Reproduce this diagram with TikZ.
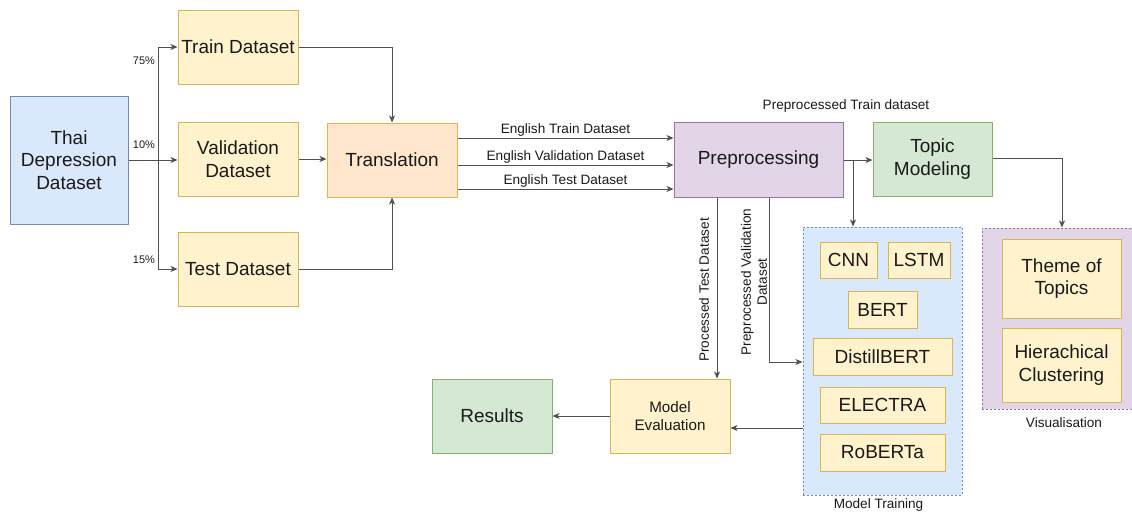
\documentclass[tikz,border=0pt]{standalone}
\usepackage{fontspec}
\setmainfont{Liberation Sans}
\usetikzlibrary{arrows.meta}

\definecolor{bluefill}{HTML}{DAE8FC}
\definecolor{blueline}{HTML}{6C8EBF}
\definecolor{yelfill}{HTML}{FFF2CC}
\definecolor{yelline}{HTML}{D6B656}
\definecolor{orfill}{HTML}{FFE6CC}
\definecolor{orline}{HTML}{E6B548}
\definecolor{purfill}{HTML}{E1D5E7}
\definecolor{purline}{HTML}{9673A6}
\definecolor{grnfill}{HTML}{D5E8D4}
\definecolor{grnline}{HTML}{82B366}
\definecolor{ink}{HTML}{1A1A1A}
\definecolor{wire}{HTML}{505050}

\newcommand{\bigtxt}{\fontsize{19}{22.5}\selectfont}
\newcommand{\midtxt}{\fontsize{15.2}{18}\selectfont}
\newcommand{\smalltxt}{\fontsize{13.6}{16}\selectfont}
\newcommand{\tinytxt}{\fontsize{11}{13}\selectfont}

\tikzset{
  box/.style={rectangle, draw, line width=1pt, inner sep=0pt, align=center,
    text=ink, font=\bigtxt},
  bluebox/.style={box, fill=bluefill, draw=blueline},
  yelbox/.style={box, fill=yelfill, draw=yelline},
  orbox/.style={box, fill=orfill, draw=orline},
  purbox/.style={box, fill=purfill, draw=purline},
  grnbox/.style={box, fill=grnfill, draw=grnline},
  group/.style={rectangle, line width=1pt, dash pattern=on 2pt off 2pt, inner sep=0pt},
  arr/.style={draw=wire, line width=1pt, -{Stealth[length=7pt,width=6pt,inset=2pt]}},
  lbl/.style={text=ink, font=\smalltxt, inner sep=1pt},
  pct/.style={text=ink, font=\tinytxt, inner sep=0pt},
}

\begin{document}
\begin{tikzpicture}[x=1pt, y=-1pt]
\useasboundingbox (0,0) rectangle (1132,517);

% containers (the visualisation group runs off the right edge)
\node[group, fill=bluefill, draw=blueline, minimum width=159, minimum height=268] (mtrain) at (882.5,361) {};
\node[group, fill=purfill, draw=purline, minimum width=158, minimum height=181] (vis) at (1061,318.5) {};

% input and split
\node[bluebox, minimum width=118, minimum height=128] (thai) at (69,160) {Thai\\Depression\\Dataset};
\node[yelbox, minimum width=120, minimum height=74] (train) at (238,47) {Train Dataset};
\node[yelbox, minimum width=120, minimum height=74] (val) at (238,159) {Validation\\Dataset};
\node[yelbox, minimum width=120, minimum height=74] (test) at (238,269) {Test Dataset};
\node[orbox, minimum width=130, minimum height=74] (trans) at (392,160) {Translation};
\node[purbox, minimum width=169, minimum height=75] (prep) at (758.5,159.5) {Preprocessing};
\node[grnbox, minimum width=119, minimum height=74] (topic) at (932.5,159) {Topic\\Modeling};

% models
\node[yelbox, minimum width=57, minimum height=36] (cnn) at (848.5,260) {CNN};
\node[yelbox, minimum width=62, minimum height=36] (lstm) at (919,260) {LSTM};
\node[yelbox, minimum width=69, minimum height=37] (bert) at (882.5,309.5) {BERT};
\node[yelbox, minimum width=139, minimum height=37] (distil) at (882.5,356.5) {DistillBERT};
\node[yelbox, minimum width=125, minimum height=36] (electra) at (882.5,405) {ELECTRA};
\node[yelbox, minimum width=125, minimum height=37] (roberta) at (882.5,452.5) {RoBERTa};

% visualisation
\node[yelbox, minimum width=119, minimum height=79] (theme) at (1061.5,278.5) {Theme of\\Topics};
\node[yelbox, minimum width=119, minimum height=74] (hier) at (1061.5,365) {Hierachical\\Clustering};

% evaluation
\node[grnbox, minimum width=120, minimum height=74] (results) at (492,416) {Results};
\node[yelbox, minimum width=120, minimum height=74, font=\midtxt] (meval) at (670,416) {Model\\Evaluation};

% group captions
\node[lbl, anchor=north, inner sep=3pt] (mtrainlbl) at ([xshift=-4pt]mtrain.south) {Model Training};
\node[lbl] (vislbl) at (1064,423) {Visualisation};

% split connectors
\coordinate (sp) at (158,160);
\draw[arr] (thai.east) -- (thai.east -| val.west);
\draw[arr] (sp) |- (train.west);
\draw[arr] (sp) |- (test.west);
\node[pct] (p75) at (144,61) {75\%};
\node[pct] (p10) at (144,145) {10\%};
\node[pct] (p15) at (144,260) {15\%};

% into translation
\draw[arr] (train.east) -| (trans.north);
\draw[arr] (val.east) -- (val.east -| trans.west);
\draw[arr] (test.east) -| (trans.south);

% translated sets
\draw[arr] (trans.east |- 0,138) -- (prep.west |- 0,138)
  node[lbl, midway, above] {English Train Dataset};
\draw[arr] (trans.east |- 0,165) -- (prep.west |- 0,165)
  node[lbl, midway, above] {English Validation Dataset};
\draw[arr] (trans.east |- 0,189) -- (prep.west |- 0,189)
  node[lbl, midway, above] {English Test Dataset};

% preprocessed train set
\draw[arr] (prep.east |- 0,160) -- (topic.west |- 0,160);
\node[lbl] (ptlbl) at (846,106) {Preprocessed Train dataset};
\coordinate (br) at (853,160);
\draw[arr] (br) -- (br |- mtrain.north);
\draw[arr] (topic.east |- 0,158) -| ([xshift=1pt]vis.north);

% preprocessed test set
\coordinate (pt) at (717,0);
\draw[arr] (pt |- prep.south) -- (pt |- meval.north);
\node[lbl, rotate=90] (ptestlbl) at (704,290) {Processed Test Dataset};

% preprocessed validation set
\coordinate (pv) at (769,0);
\draw[arr] (pv |- prep.south) |- (mtrain.west |- 0,362);
\node[lbl, rotate=90, align=center] (pvallbl) at (754,282) {Preprocessed Validation\\Dataset};

% evaluation flow
\draw[arr] (mtrain.west |- 0,428) -- (meval.east |- 0,428);
\draw[arr] (meval.west) -- (results.east);
\end{tikzpicture}
\end{document}
